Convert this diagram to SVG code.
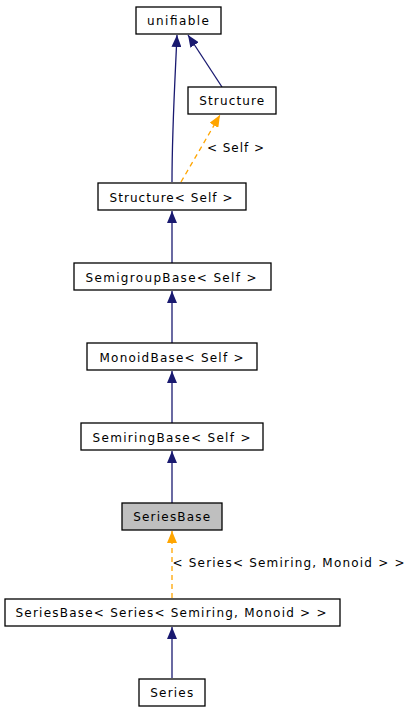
<svg xmlns="http://www.w3.org/2000/svg" width="412" height="712" viewBox="0 0 412 712">
<style>
.n rect{fill:#fff;stroke:#000;stroke-width:1.3}
.n text,.l{font-family:"DejaVu Sans",sans-serif;font-size:12px;fill:#000}
.n text{text-anchor:middle}
.e{fill:none;stroke:#191970;stroke-width:1.3}
.d{fill:none;stroke:#ffa500;stroke-width:1.3;stroke-dasharray:5,4}
</style>
<defs>
<marker id="a" viewBox="0 0 12 10" refX="12" refY="5" markerWidth="12" markerHeight="10" markerUnits="userSpaceOnUse" orient="auto"><path d="M0,0L12,5L0,10z" fill="#191970"/></marker>
<marker id="o" viewBox="0 0 12 10" refX="12" refY="5" markerWidth="12" markerHeight="10" markerUnits="userSpaceOnUse" orient="auto"><path d="M0,0L12,5L0,10z" fill="#ffa500"/></marker>
</defs>
<g id="edges">
<path class="e" d="M172,182 C172,130 175,80 177,35" marker-end="url(#a)"/>
<path class="e" d="M222,87 L188,35" marker-end="url(#a)"/>
<path class="d" d="M181,182 L220,115" marker-end="url(#o)"/>
<text class="l" x="207" y="151.5" textLength="57" lengthAdjust="spacing">&lt; Self &gt;</text>
<path class="e" d="M172,263 L172,211" marker-end="url(#a)"/>
<path class="e" d="M172,343 L172,291" marker-end="url(#a)"/>
<path class="e" d="M172,423 L172,371" marker-end="url(#a)"/>
<path class="e" d="M172,503 L172,451" marker-end="url(#a)"/>
<path class="d" d="M172,598 L172,531" marker-end="url(#o)"/>
<text class="l" x="172.5" y="567" textLength="232" lengthAdjust="spacing">&lt; Series&lt; Semiring, Monoid &gt; &gt;</text>
<path class="e" d="M172,678 L172,627" marker-end="url(#a)"/>
</g>
<g id="unifiable" class="n"><rect x="136" y="7" width="85" height="27"/><text x="178" y="25" textLength="62" lengthAdjust="spacing">unifiable</text></g>
<g id="Structure" class="n"><rect x="188" y="87" width="88" height="27"/><text x="231.7" y="105" textLength="65" lengthAdjust="spacing">Structure</text></g>
<g id="StructureSelf" class="n"><rect x="98" y="183" width="148" height="27"/><text x="171" y="201.5" textLength="123" lengthAdjust="spacing">Structure&lt; Self &gt;</text></g>
<g id="SemigroupBase" class="n"><rect x="74" y="263" width="197" height="27"/><text x="171" y="281.5" textLength="171" lengthAdjust="spacing">SemigroupBase&lt; Self &gt;</text></g>
<g id="MonoidBase" class="n"><rect x="87" y="343" width="170" height="27"/><text x="171.5" y="361.5" textLength="144" lengthAdjust="spacing">MonoidBase&lt; Self &gt;</text></g>
<g id="SemiringBase" class="n"><rect x="81" y="423" width="182" height="27"/><text x="171.5" y="441.5" textLength="158" lengthAdjust="spacing">SemiringBase&lt; Self &gt;</text></g>
<g id="SeriesBase" class="n"><rect x="122" y="503" width="100" height="27" style="fill:#bfbfbf"/><text x="171.7" y="521" textLength="77" lengthAdjust="spacing">SeriesBase</text></g>
<g id="SeriesBaseSeries" class="n"><rect x="5" y="599" width="335" height="27"/><text x="171" y="617" textLength="311" lengthAdjust="spacing">SeriesBase&lt; Series&lt; Semiring, Monoid &gt; &gt;</text></g>
<g id="Series" class="n"><rect x="139" y="679" width="66" height="27"/><text x="171.7" y="697" textLength="43" lengthAdjust="spacing">Series</text></g>
</svg>
